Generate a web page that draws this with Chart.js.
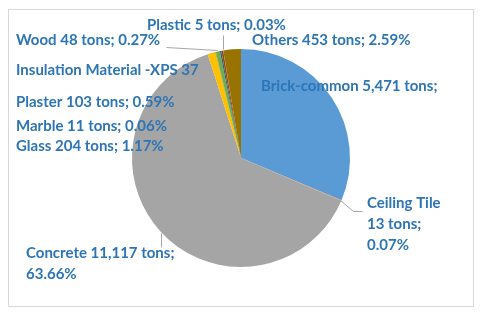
<!DOCTYPE html>
<html><head><meta charset="utf-8">
<script src="https://cdn.jsdelivr.net/npm/chart.js@4"></script>
<style>html,body{margin:0;padding:0;background:#fff;}canvas{display:block;}</style>
</head><body>
<canvas id="c" width="480" height="315"></canvas>
<script>
const categories = ["Brick-common","Ceiling Tile","Concrete","Glass","Marble","Plaster","Insulation Material -XPS","Wood","Plastic","Others"];
const tons = [5471, 13, 11117, 204, 11, 103, 37, 48, 5, 453];
const percents = ["31.33%","0.07%","63.66%","1.17%","0.06%","0.59%","0.21%","0.27%","0.03%","2.59%"];
const colors = ["#5B9BD5","#ED7D31","#A5A5A5","#FFC000","#4472C4","#70AD47","#255E91","#9E480E","#636363","#997300"];

function fmt(n){return n.toLocaleString('en-US');}
function labelText(i){return categories[i]+" "+fmt(tons[i])+" tons; "+percents[i];}

// label layout (positions only)
const layout = [
  {i:0, x:261, y:86, lines:(i)=>[categories[i]+" "+fmt(tons[i])+" tons;"]},
  {i:1, x:367, y:203, lines:(i)=>[categories[i], fmt(tons[i])+" tons;", percents[i]]},
  {i:2, x:26, y:253, lines:(i)=>[categories[i]+" "+fmt(tons[i])+" tons;", percents[i]]},
  {i:3, x:16, y:146, lines:(i)=>[labelText(i)]},
  {i:4, x:16, y:126, lines:(i)=>[labelText(i)]},
  {i:5, x:16, y:102, lines:(i)=>[labelText(i)]},
  {i:6, x:16, y:70, lines:(i)=>[categories[i]+" "+fmt(tons[i])]},
  {i:7, x:16, y:40, lines:(i)=>[labelText(i)]},
  {i:8, x:147, y:25, lines:(i)=>[labelText(i)]},
  {i:9, x:252, y:40, lines:(i)=>[labelText(i)]}
];
const leaders = [
  [[340,200],[353,211],[362,211]],
  [[161,233],[161,247]],
  [[223,49],[223,35]],
  [[217,50],[166,47]]
];

const deco = {
  id:'deco',
  beforeDraw(chart){
    const c = chart.ctx;
    c.save();
    c.fillStyle="#fff"; c.fillRect(0,0,chart.width,chart.height);
    c.strokeStyle="#D9D9D9"; c.lineWidth=1;
    c.strokeRect(8.5,9.5,465,297);
    c.restore();
  },
  afterDraw(chart){
    const c = chart.ctx;
    c.save();
    c.strokeStyle="#A6A6A6"; c.lineWidth=1;
    leaders.forEach(pts=>{
      c.beginPath();
      pts.forEach((p,k)=>{ if(k===0) c.moveTo(p[0]+0.5,p[1]+0.5); else c.lineTo(p[0]+0.5,p[1]+0.5);});
      c.stroke();
    });
    c.fillStyle="#2E75B6";
    c.font="bold 15px Lato";
    c.textBaseline="middle";
    c.textAlign="left";
    layout.forEach(L=>{
      L.lines(L.i).forEach((t,k)=>c.fillText(t, L.x, L.y + k*21));
    });
    c.restore();
  }
};

new Chart(document.getElementById('c'), {
  type:'pie',
  data:{labels:categories, datasets:[{data:tons, backgroundColor:colors, borderWidth:0}]},
  options:{
    responsive:false, animation:false,
    layout:{padding:{top:49,bottom:48,left:20,right:18}},
    plugins:{legend:{display:false}, tooltip:{enabled:false}}
  },
  plugins:[deco]
});
</script>
</body></html>
